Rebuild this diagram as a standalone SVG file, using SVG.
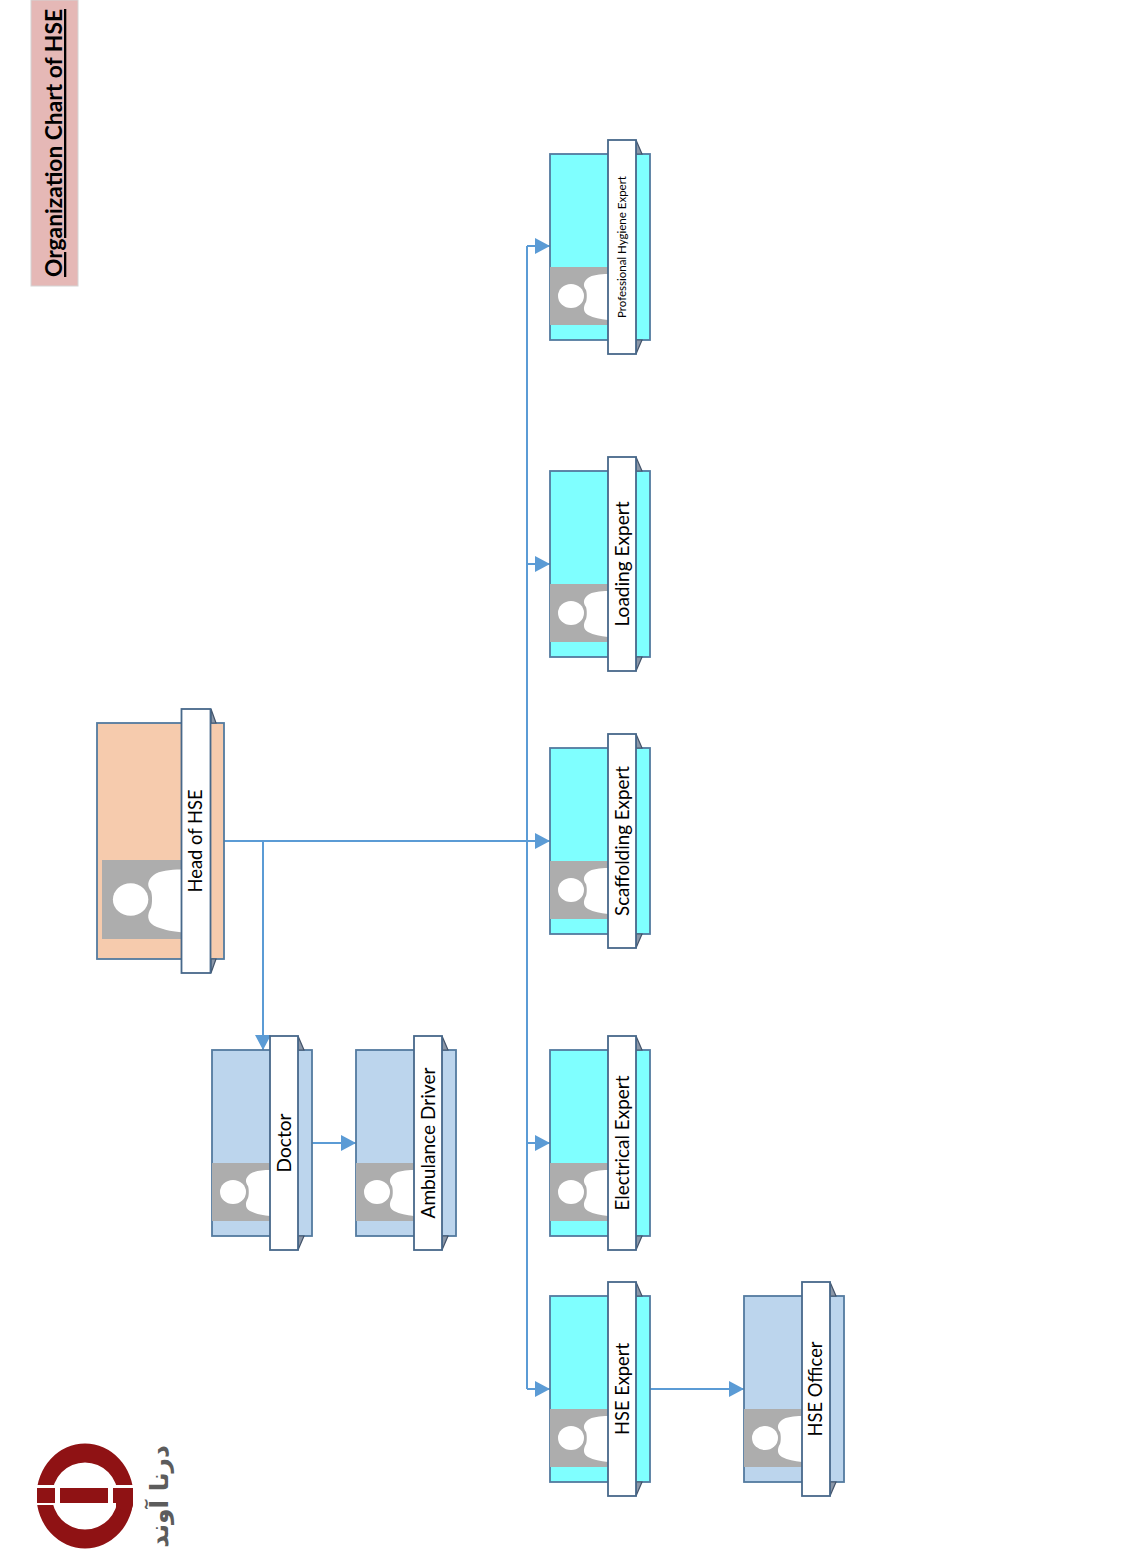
<svg xmlns="http://www.w3.org/2000/svg" xmlns:xlink="http://www.w3.org/1999/xlink" width="1125" height="1566" viewBox="0 0 1125 1566">
<style>
.box{stroke:#537a9f;stroke-width:1.8}
.rib{fill:#fff;stroke:#47688a;stroke-width:1.8}
.fold{fill:#8b97a8;stroke:#44546a;stroke-width:1.2}
.cyan{fill:#7fffff}
.blue{fill:#bcd5ed}
.peach{fill:#f6cbad}
.lbl{font-family:Lato,"Open Sans","Liberation Sans",sans-serif;font-size:19.500px;fill:#000;text-anchor:middle}
.con{fill:none;stroke:#5b9bd5;stroke-width:2}
</style>
<defs>
<marker id="arr" markerUnits="userSpaceOnUse" markerWidth="15" markerHeight="16" refX="15" refY="8" orient="auto"><path d="M0 0L15 8L0 16Z" fill="#5b9bd5"/></marker>
<g id="photo">
<rect width="58" height="58" fill="#adadad"/>
<ellipse cx="21" cy="29" rx="13" ry="12" fill="#fff"/>
<path d="M58 7C50 7 42 8 38 11C33 15 33 19 36 23C37 26 37 32 36 35C33 40 33 45 38 48C44 51 50 52 58 53Z" fill="#fff"/>
</g>
<g id="card">
<rect class="box" x="0" y="14" width="100" height="186"/>
<path class="fold" d="M86 0L92 14H86Z"/>
<path class="fold" d="M86 214L92 200H86Z"/>
<use xlink:href="#photo" href="#photo" x="0" y="127"/>
<rect class="rib" x="58" y="0" width="28" height="214"/>
</g>
</defs>
<rect width="1125" height="1566" fill="#fff"/>

<g id="title">
<rect x="31" y="0" width="47" height="286" fill="#e5b8b6" stroke="#d4d4d4" stroke-width="1"/>
<text transform="translate(62,277) rotate(-90)" font-family="Lato,'Open Sans','Liberation Sans',sans-serif" font-size="23" font-weight="700" text-decoration="underline" textLength="268" lengthAdjust="spacingAndGlyphs" fill="#000">Organization Chart of HSE</text>
</g>

<g id="connectors">
<path class="con" marker-end="url(#arr)" d="M224 841H550"/>
<path class="con" marker-end="url(#arr)" d="M263 841V1050"/>
<path class="con" d="M527 246V1389"/>
<path class="con" marker-end="url(#arr)" d="M527 246H550"/>
<path class="con" marker-end="url(#arr)" d="M527 564H550"/>
<path class="con" marker-end="url(#arr)" d="M527 1143H550"/>
<path class="con" marker-end="url(#arr)" d="M527 1389H550"/>
<path class="con" marker-end="url(#arr)" d="M312 1143H356"/>
<path class="con" marker-end="url(#arr)" d="M650 1389H744"/>
</g>

<g id="node-head">
<rect class="box peach" x="97" y="723" width="127" height="236"/>
<path class="fold" d="M211 709L216 723H211Z"/>
<path class="fold" d="M211 973L216 959H211Z"/>
<use xlink:href="#photo" href="#photo" transform="translate(102,860) scale(1.362)"/>
<rect class="rib" x="181.500" y="709" width="29" height="264"/>
<text class="lbl" transform="translate(202,841) rotate(-90)" textLength="103" lengthAdjust="spacingAndGlyphs">Head of HSE</text>
</g>
<g id="node-doctor" class="blue">
<use xlink:href="#card" href="#card" x="212" y="1036"/>
<text class="lbl" transform="translate(291,1143) rotate(-90)" textLength="59" lengthAdjust="spacingAndGlyphs">Doctor</text>
</g>
<g id="node-ambulance" class="blue">
<use xlink:href="#card" href="#card" x="356" y="1036"/>
<text class="lbl" transform="translate(435,1143) rotate(-90)" textLength="151" lengthAdjust="spacingAndGlyphs">Ambulance Driver</text>
</g>
<g id="node-hygiene" class="cyan">
<use xlink:href="#card" href="#card" x="550" y="140"/>
<text class="lbl" transform="translate(626,247) rotate(-90)" style="font-size:11px" textLength="142" lengthAdjust="spacingAndGlyphs">Professional Hygiene Expert</text>
</g>
<g id="node-loading" class="cyan">
<use xlink:href="#card" href="#card" x="550" y="457"/>
<text class="lbl" transform="translate(629,564) rotate(-90)" textLength="125" lengthAdjust="spacingAndGlyphs">Loading Expert</text>
</g>
<g id="node-scaffolding" class="cyan">
<use xlink:href="#card" href="#card" x="550" y="734"/>
<text class="lbl" transform="translate(629,841) rotate(-90)" textLength="150" lengthAdjust="spacingAndGlyphs">Scaffolding Expert</text>
</g>
<g id="node-electrical" class="cyan">
<use xlink:href="#card" href="#card" x="550" y="1036"/>
<text class="lbl" transform="translate(629,1143) rotate(-90)" textLength="135" lengthAdjust="spacingAndGlyphs">Electrical Expert</text>
</g>
<g id="node-hse-expert" class="cyan">
<use xlink:href="#card" href="#card" x="550" y="1282"/>
<text class="lbl" transform="translate(629,1389) rotate(-90)" textLength="92" lengthAdjust="spacingAndGlyphs">HSE Expert</text>
</g>
<g id="node-hse-officer" class="blue">
<use xlink:href="#card" href="#card" x="744" y="1282"/>
<text class="lbl" transform="translate(822,1389) rotate(-90)" textLength="95" lengthAdjust="spacingAndGlyphs">HSE Officer</text>
</g>

<g id="logo">
<path fill-rule="evenodd" fill="#8f1214" d="M36.500 1496a48.500 52.500 0 1 0 97 0a48.500 52.500 0 1 0 -97 0ZM52 1496a33 33.500 0 1 1 66 0a33 33.500 0 1 1 -66 0Z"/>
<rect x="30" y="1485" width="110" height="20" fill="#fff"/>
<rect x="37" y="1488" width="18" height="15" fill="#8f1214"/>
<rect x="60" y="1488" width="48" height="15" fill="#8f1214"/>
<path d="M113 1488H133V1505L130 1514L116 1508V1503H113Z" fill="#8f1214"/>
<text transform="translate(168,1496.500) rotate(-90)" font-family="'DejaVu Sans',sans-serif" font-size="25" font-weight="700" fill="#5c5c5c" text-anchor="middle">درنا آوند</text>
</g>
</svg>
